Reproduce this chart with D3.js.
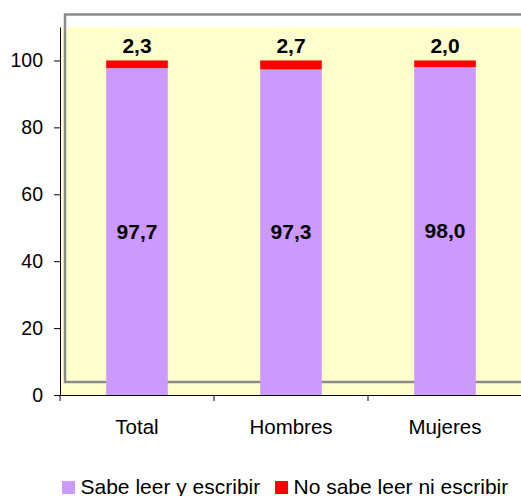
<!DOCTYPE html>
<html>
<head>
<meta charset="utf-8">
<script src="https://cdn.jsdelivr.net/npm/d3@7"></script>
<style>
  body { margin: 0; background: #fff; }
  svg { display: block; font-family: "Liberation Sans", Arial, sans-serif; }
</style>
</head>
<body>
<svg id="chart" width="521" height="496"></svg>
<script>
// chart data
const categories = ['Total', 'Hombres', 'Mujeres'];
const sabeLeer = [97.7, 97.3, 98.0];
const noSabeLeer = [2.3, 2.7, 2.0];
const yTicks = [0, 20, 40, 60, 80, 100];
const seriesNames = ['Sabe leer y escribir', 'No sabe leer ni escribir'];
const seriesColors = ['#CC99FF', '#FF0000'];

const fmt = v => v.toFixed(1).replace('.', ',');

const svg = d3.select('#chart');
const margin = { top: 27, right: -1, bottom: 101, left: 60 };
const width = +svg.attr('width') - margin.left - margin.right;
const height = +svg.attr('height') - margin.top - margin.bottom;

const g = svg.append('g')
	.attr('transform', 'translate(' + margin.left + ',' + margin.top + ')');

const x = d3.scaleBand()
	.domain(categories)
	.range([0, width])
	.paddingInner(0.6)
	.paddingOuter(0.3);

const y = d3.scaleLinear()
	.domain([0, 110])
	.range([height, 0]);

// plot background
g.append('rect')
	.attr('x', 0)
	.attr('y', 0)
	.attr('width', width + 5)
	.attr('height', height)
	.attr('fill', '#FFFFCC');

// grey frame
g.append('rect')
	.attr('x', 5)
	.attr('y', -12.5)
	.attr('width', width + 20)
	.attr('height', height - 0.5)
	.attr('fill', 'none')
	.attr('stroke', '#8a8a8a')
	.attr('stroke-width', 2.5);

const data = categories.map((c, i) => ({ cat: c, a: sabeLeer[i], b: noSabeLeer[i] }));

// purple segments
g.selectAll('.barA')
	.data(data)
	.enter()
	.append('rect')
	.attr('class', 'barA')
	.attr('x', d => x(d.cat))
	.attr('width', x.bandwidth())
	.attr('y', d => y(d.a))
	.attr('height', d => y(0) - y(d.a))
	.attr('fill', seriesColors[0]);

// red segments
g.selectAll('.barB')
	.data(data)
	.enter()
	.append('rect')
	.attr('class', 'barB')
	.attr('x', d => x(d.cat))
	.attr('width', x.bandwidth())
	.attr('y', d => y(d.a + d.b))
	.attr('height', d => y(d.a) - y(d.a + d.b))
	.attr('fill', seriesColors[1]);

// value labels
g.selectAll('.labA')
	.data(data)
	.enter()
	.append('text')
	.attr('class', 'labA')
	.attr('x', d => x(d.cat) + x.bandwidth() / 2)
	.attr('y', d => (y(0) + y(d.a)) / 2 + 7)
	.attr('text-anchor', 'middle')
	.style('font-size', '21px')
	.style('font-weight', 'bold')
	.text(d => fmt(d.a));

g.selectAll('.labB')
	.data(data)
	.enter()
	.append('text')
	.attr('class', 'labB')
	.attr('x', d => x(d.cat) + x.bandwidth() / 2)
	.attr('y', d => y(d.a + d.b) - 7)
	.attr('text-anchor', 'middle')
	.style('font-size', '21px')
	.style('font-weight', 'bold')
	.text(d => fmt(d.b));

// y axis
const yAxis = g.append('g')
	.attr('class', 'axis axis--y')
	.call(d3.axisLeft(y).tickValues(yTicks).tickSize(6).tickPadding(11).tickSizeOuter(0));
yAxis.selectAll('text').style('font-size', '19.5px').attr('fill', '#000');
yAxis.selectAll('line, path').attr('stroke', '#000');

// x axis
const xAxis = g.append('g')
	.attr('class', 'axis axis--x')
	.attr('transform', 'translate(0,' + height + ')')
	.call(d3.axisBottom(x).tickSize(0).tickPadding(24).tickSizeOuter(0));
xAxis.selectAll('text').style('font-size', '20.5px').attr('fill', '#000');
xAxis.select('.domain').attr('stroke', '#000');

xAxis.selectAll('.sep')
	.data(d3.range(categories.length + 1))
	.enter()
	.append('line')
	.attr('class', 'sep')
	.attr('x1', i => i * x.step())
	.attr('x2', i => i * x.step())
	.attr('y1', 0)
	.attr('y2', 6)
	.attr('stroke', '#000');

// legend
const legend = svg.append('g').attr('class', 'legend');
const legendX = [62, 275];
seriesNames.forEach((name, i) => {
	legend.append('rect')
		.attr('x', legendX[i])
		.attr('y', 481)
		.attr('width', 13)
		.attr('height', 13)
		.attr('fill', seriesColors[i]);
	legend.append('text')
		.attr('x', legendX[i] + 18.5)
		.attr('y', 494)
		.style('font-size', '21px')
		.text(name);
});
</script>
</body>
</html>
